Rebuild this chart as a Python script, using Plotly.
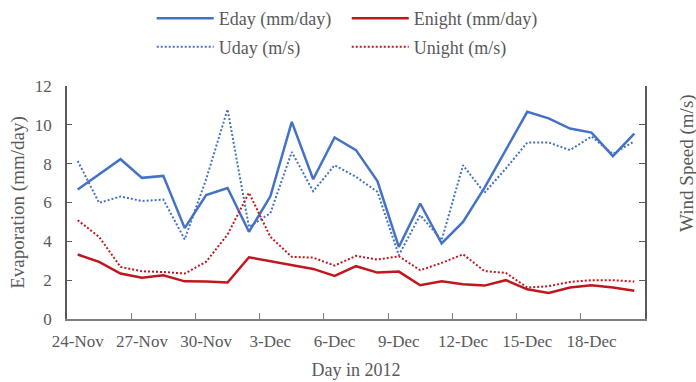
import plotly.graph_objects as go

days = ['24-Nov', '25-Nov', '26-Nov', '27-Nov', '28-Nov', '29-Nov', '30-Nov',
        '1-Dec', '2-Dec', '3-Dec', '4-Dec', '5-Dec', '6-Dec', '7-Dec', '8-Dec',
        '9-Dec', '10-Dec', '11-Dec', '12-Dec', '13-Dec', '14-Dec', '15-Dec',
        '16-Dec', '17-Dec', '18-Dec', '19-Dec', '20-Dec']
eday = [6.67, 7.44, 8.23, 7.27, 7.37, 4.68, 6.38, 6.75, 4.49, 6.32, 10.15, 7.2, 9.35, 8.7,
        7.1, 3.71, 5.95, 3.89, 5.0, 6.75, 8.7, 10.67, 10.33, 9.81, 9.6, 8.39, 9.55]
enight = [3.32, 2.94, 2.34, 2.12, 2.25, 1.94, 1.93, 1.88, 3.18, 2.98, 2.8, 2.58, 2.22, 2.72,
          2.39, 2.44, 1.74, 1.94, 1.79, 1.72, 2.0, 1.53, 1.34, 1.62, 1.74, 1.62, 1.46]
uday = [8.14, 5.98, 6.31, 6.08, 6.15, 4.1, 7.2, 10.8, 4.74, 5.45, 8.6, 6.58, 7.92, 7.32,
        6.55, 3.28, 5.35, 4.06, 7.92, 6.5, 7.75, 9.09, 9.09, 8.7, 9.4, 8.5, 9.15]
unight = [5.09, 4.23, 2.68, 2.46, 2.42, 2.34, 2.95, 4.35, 6.5, 4.23, 3.2, 3.16, 2.75, 3.25,
          3.06, 3.23, 2.51, 2.89, 3.33, 2.47, 2.37, 1.62, 1.69, 1.91, 2.0, 2.0, 1.93]
tick_idx = list(range(0, 27, 3))
tick_labels = [days[i] for i in tick_idx]
boundary_ticks = [i + 2.5 for i in range(0, 24, 3)]

BLUE = '#4472C4'
RED = '#C0171F'
GREY = '#595959'
FONT = 'Liberation Serif'
x = list(range(len(days)))

fig = go.Figure()
fig.add_trace(go.Scatter(x=x, y=eday, name='Eday (mm/day)', mode='lines',
                         line=dict(color=BLUE, width=2.5), legend='legend'))
fig.add_trace(go.Scatter(x=x, y=enight, name='Enight (mm/day)', mode='lines',
                         line=dict(color=RED, width=2.5), legend='legend'))
fig.add_trace(go.Scatter(x=x, y=uday, name='Uday (m/s)', mode='lines', xaxis='x2', yaxis='y2',
                         line=dict(color=BLUE, width=2, dash='2px,2px'), legend='legend2'))
fig.add_trace(go.Scatter(x=x, y=unight, name='Unight (m/s)', mode='lines', xaxis='x2', yaxis='y2',
                         line=dict(color=RED, width=2, dash='2px,2px'), legend='legend2'))

xr = [-0.5, len(days) - 0.5]
fig.update_layout(
    width=696, height=382,
    margin=dict(l=67, r=51, t=86, b=63, autoexpand=False),
    paper_bgcolor='white', plot_bgcolor='white',
    font=dict(family=FONT, color=GREY, size=17),
    showlegend=True,
    legend=dict(orientation='h', xref='container', yref='container', x=0.218, y=1.0,
                xanchor='left', yanchor='top', font=dict(size=18, family=FONT, color=GREY),
                itemwidth=57, entrywidth=123, bgcolor='rgba(0,0,0,0)'),
    legend2=dict(orientation='h', xref='container', yref='container', x=0.218, y=0.925,
                 xanchor='left', yanchor='top', font=dict(size=18, family=FONT, color=GREY),
                 itemwidth=57, entrywidth=123, bgcolor='rgba(0,0,0,0)'),
    xaxis=dict(range=xr, tickmode='array', tickvals=tick_idx, ticktext=tick_labels,
               ticks='', showline=True, linecolor='#7f7f7f', linewidth=1.5,
               showgrid=False, zeroline=False, tickfont=dict(size=17),
               ticklabelstandoff=6,
               title=dict(text='Day in 2012', font=dict(size=18), standoff=13)),
    xaxis2=dict(range=xr, overlaying='x', anchor='y', side='bottom', tickmode='array',
                tickvals=boundary_ticks, ticks='inside', ticklen=6, tickcolor='#7f7f7f',
                tickwidth=1.2, showticklabels=False, showline=False, showgrid=False,
                zeroline=False),
    yaxis=dict(range=[0, 12], dtick=2, ticks='inside', ticklen=5, tickcolor=GREY,
               showline=True, linecolor=GREY, linewidth=1.5, showgrid=False, zeroline=False,
               tickfont=dict(size=17), ticklabelstandoff=10,
               title=dict(text='Evaporation (mm/day)', font=dict(size=19), standoff=5)),
    yaxis2=dict(range=[0, 12], dtick=2, overlaying='y', side='right', anchor='x',
                ticks='inside', ticklen=6, tickcolor=GREY, showticklabels=False,
                showline=True, linecolor=GREY, linewidth=1.5, showgrid=False, zeroline=False),
    annotations=[dict(text='Wind Speed (m/s)', textangle=-90, xref='paper', yref='paper',
                      x=1.0, xshift=42, y=0.67, xanchor='center', yanchor='middle',
                      showarrow=False, font=dict(size=19, family=FONT, color=GREY))],
)

fig.write_html('out.html', config={'displayModeBar': False},
               post_script="document.body.style.margin='0';")
